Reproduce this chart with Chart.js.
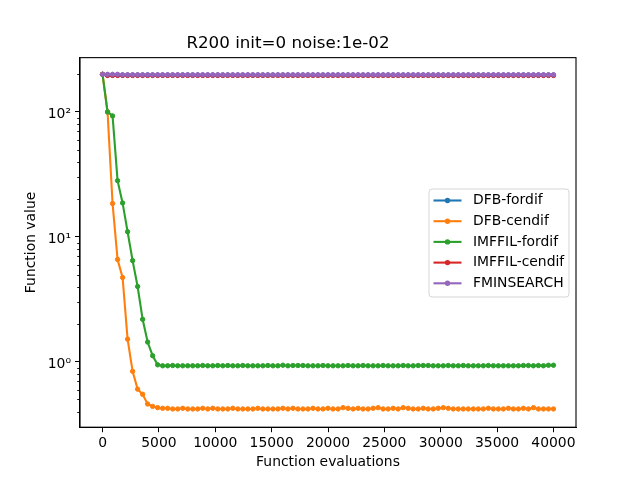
<!DOCTYPE html>
<html>
<head>
<meta charset="utf-8">
<script src="https://cdn.jsdelivr.net/npm/chart.js@4.4.1/dist/chart.umd.min.js"></script>
<style>
html,body{margin:0;padding:0;background:#fff;}
#wrap{width:640px;height:480px;}
</style>
</head>
<body>
<div id="wrap"><canvas id="c" width="640" height="480"></canvas></div>
<script>
const titleText = 'R200 init=0 noise:1e-02';
const xLabel = 'Function evaluations';
const yLabel = 'Function value';
const seriesNames = ['DFB-fordif','DFB-cendif','IMFFIL-fordif','IMFFIL-cendif','FMINSEARCH'];
const seriesColors = ['#1f77b4','#ff7f0e','#2ca02c','#d62728','#9467bd'];
const xTicks = [0,5000,10000,15000,20000,25000,30000,35000,40000];
const yTicks = [1,10,100];
const yTickLabels = ['10\u2070','10\u00b9','10\u00b2'];
const yMinorTicks = [0.4,0.5,0.6,0.7,0.8,0.9,2,3,4,5,6,7,8,9,20,30,40,50,60,70,80,90,200];

const evals = [0,444,889,1333,1778,2222,2667,3111,3556,4000,
4444,4889,5333,5778,6222,6667,7111,7556,8000,8444,
8889,9333,9778,10222,10667,11111,11556,12000,12444,12889,
13333,13778,14222,14667,15111,15556,16000,16444,16889,17333,
17778,18222,18667,19111,19556,20000,20444,20889,21333,21778,
22222,22667,23111,23556,24000,24444,24889,25333,25778,26222,
26667,27111,27556,28000,28444,28889,29333,29778,30222,30667,
31111,31556,32000,32444,32889,33333,33778,34222,34667,35111,
35556,36000,36444,36889,37333,37778,38222,38667,39111,39556,40000];

const dfbFordif = [200,197,197,197,197,197,197,197,197,197,
197,197,197,197,197,197,197,197,197,197,
197,197,197,197,197,197,197,197,197,197,
197,197,197,197,197,197,197,197,197,197,
197,197,197,197,197,197,197,197,197,197,
197,197,197,197,197,197,197,197,197,197,
197,197,197,197,197,197,197,197,197,197,
197,197,197,197,197,197,197,197,197,197,
197,197,197,197,197,197,197,197,197,197,197];

const dfbCendif = [200,100,18.5,6.6,4.73,1.52,0.84,0.605,0.55,0.46,0.44,0.43,
0.425,0.425,0.42,0.42,0.425,0.42,0.42,0.42,0.425,0.42,
0.425,0.42,0.42,0.42,0.425,0.42,0.42,0.42,0.42,0.425,
0.42,0.42,0.42,0.42,0.425,0.42,0.425,0.42,0.42,0.42,
0.425,0.42,0.42,0.425,0.42,0.42,0.43,0.425,0.42,0.425,
0.42,0.42,0.425,0.43,0.42,0.42,0.425,0.42,0.43,0.425,
0.42,0.42,0.425,0.42,0.42,0.425,0.43,0.425,0.42,0.42,
0.42,0.42,0.42,0.42,0.42,0.425,0.42,0.42,0.42,0.425,
0.42,0.42,0.425,0.42,0.43,0.42,0.42,0.42,0.42];

const imffilFordif = [200,100,93,28.2,18.7,11.0,6.46,4.01,2.19,1.44,1.12,0.947,
0.93,0.93,0.935,0.93,0.93,0.93,0.93,0.93,0.935,0.93,
0.93,0.935,0.93,0.935,0.93,0.93,0.935,0.93,0.93,0.93,
0.93,0.935,0.93,0.93,0.94,0.93,0.935,0.935,0.935,0.93,
0.93,0.93,0.935,0.93,0.93,0.93,0.93,0.935,0.93,0.93,
0.935,0.93,0.93,0.93,0.935,0.93,0.93,0.93,0.935,0.93,
0.93,0.935,0.935,0.935,0.93,0.93,0.93,0.935,0.93,0.93,
0.935,0.93,0.93,0.93,0.93,0.935,0.93,0.93,0.93,0.93,
0.93,0.93,0.935,0.935,0.93,0.935,0.93,0.94,0.94];

const imffilCendif = [200,196,196,196,196,196,196,196,196,196,
196,196,196,196,196,196,196,196,196,196,
196,196,196,196,196,196,196,196,196,196,
196,196,196,196,196,196,196,196,196,196,
196,196,196,196,196,196,196,196,196,196,
196,196,196,196,196,196,196,196,196,196,
196,196,196,196,196,196,196,196,196,196,
196,196,196,196,196,196,196,196,196,196,
196,196,196,196,196,196,196,196,196,196,196];

const fminsearch = [200,200,200,200,198.5,198.5,198.5,198.5,198.5,198.5,
198.5,198.5,198.5,198.5,198.5,198.5,198.5,198.5,198.5,198.5,
198.5,198.5,198.5,198.5,198.5,198.5,198.5,198.5,198.5,198.5,
198.5,198.5,198.5,198.5,198.5,198.5,198.5,198.5,198.5,198.5,
198.5,198.5,198.5,198.5,198.5,198.5,198.5,198.5,198.5,198.5,
198.5,198.5,198.5,198.5,198.5,198.5,198.5,198.5,198.5,198.5,
198.5,198.5,198.5,198.5,198.5,198.5,198.5,198.5,198.5,198.5,
198.5,198.5,198.5,198.5,198.5,198.5,198.5,198.5,198.5,198.5,
198.5,198.5,198.5,198.5,198.5,198.5,198.5,198.5,198.5,198.5,198.5];

const seriesValues = [dfbFordif, dfbCendif, imffilFordif, imffilCendif, fminsearch];

const FONT = 'DejaVu Sans';

const datasets = seriesNames.map((name, i) => ({
  label: name,
  data: seriesValues[i].map((v, k) => ({x: evals[k], y: v})),
  borderColor: seriesColors[i],
  backgroundColor: seriesColors[i],
  pointBackgroundColor: seriesColors[i],
  pointBorderColor: seriesColors[i],
  pointRadius: 2.2,
  pointBorderWidth: 1,
  borderWidth: 2.1,
  tension: 0,
  order: seriesNames.length - 1 - i
}));

const extrasPlugin = {
  id: 'extras',
  afterDraw(chart) {
    const ctx = chart.ctx;
    const a = chart.chartArea;
    const y = chart.scales.y;
    ctx.save();
    ctx.strokeStyle = '#000';
    ctx.lineWidth = 0.9;
    yMinorTicks.forEach(v => {
      const py = Math.round(y.getPixelForValue(v)) + 0.5;
      if (py < a.top || py > a.bottom) return;
      ctx.beginPath();
      ctx.moveTo(a.left - 2.8, py);
      ctx.lineTo(a.left, py);
      ctx.stroke();
    });
    ctx.lineWidth = 1.1;
    ctx.strokeRect(a.left, a.top, a.right - a.left, a.bottom - a.top);
    const lx = 429, ly = 189, lw = 140, lh = 108, r = 3;
    ctx.globalAlpha = 0.8;
    ctx.fillStyle = '#fff';
    ctx.strokeStyle = '#cccccc';
    ctx.lineWidth = 1;
    ctx.beginPath();
    ctx.moveTo(lx + r, ly);
    ctx.lineTo(lx + lw - r, ly);
    ctx.quadraticCurveTo(lx + lw, ly, lx + lw, ly + r);
    ctx.lineTo(lx + lw, ly + lh - r);
    ctx.quadraticCurveTo(lx + lw, ly + lh, lx + lw - r, ly + lh);
    ctx.lineTo(lx + r, ly + lh);
    ctx.quadraticCurveTo(lx, ly + lh, lx, ly + lh - r);
    ctx.lineTo(lx, ly + r);
    ctx.quadraticCurveTo(lx, ly, lx + r, ly);
    ctx.closePath();
    ctx.fill();
    ctx.stroke();
    ctx.globalAlpha = 1;
    ctx.font = '13.9px "' + FONT + '"';
    ctx.textBaseline = 'middle';
    ctx.textAlign = 'left';
    chart.data.datasets.forEach((ds, i) => {
      const ry = 200.5 + i * 20.7;
      ctx.strokeStyle = ds.borderColor;
      ctx.lineWidth = 2.1;
      ctx.beginPath();
      ctx.moveTo(433.5, ry);
      ctx.lineTo(461.5, ry);
      ctx.stroke();
      ctx.fillStyle = ds.borderColor;
      ctx.beginPath();
      ctx.arc(447.5, ry, 2.7, 0, Math.PI * 2);
      ctx.fill();
      ctx.fillStyle = '#000';
      ctx.fillText(ds.label, 473, ry);
    });
    ctx.restore();
  }
};

new Chart(document.getElementById('c'), {
  type: 'line',
  data: { datasets },
  options: {
    responsive: false,
    animation: false,
    devicePixelRatio: 1,
    layout: { padding: { left: 0, right: 64, top: 0, bottom: 0 } },
    plugins: {
      legend: { display: false },
      tooltip: { enabled: false },
      title: {
        display: true,
        text: titleText,
        color: '#000',
        font: { family: FONT, size: 16.7, weight: 'normal', lineHeight: 1.2 },
        padding: { top: 33.5, bottom: 4.1 }
      }
    },
    scales: {
      x: {
        type: 'linear',
        min: -2000,
        max: 42000,
        afterBuildTicks: s => { s.ticks = xTicks.map(v => ({ value: v })); },
        afterFit: s => { s.height = 52.8; },
        ticks: {
          color: '#000',
          font: { family: FONT, size: 13.9 },
          padding: 3,
          maxRotation: 0,
          autoSkip: false,
          callback: v => String(v)
        },
        grid: { drawOnChartArea: false, tickLength: 5, tickColor: '#000', tickWidth: 1 },
        border: { color: '#000', width: 1.1 },
        title: {
          display: true,
          text: xLabel,
          color: '#000',
          font: { family: FONT, size: 13.9, lineHeight: 1.2 },
          padding: { top: 0, bottom: 9.7 }
        }
      },
      y: {
        type: 'logarithmic',
        min: 0.308,
        max: 272,
        afterBuildTicks: s => { s.ticks = yTicks.map(v => ({ value: v, major: true })); },
        afterFit: s => { s.width = 80; },
        ticks: {
          color: '#000',
          font: { family: FONT, size: 13.9 },
          padding: 4,
          labelOffset: 2.5,
          autoSkip: false,
          callback: v => { const k = yTicks.indexOf(v); return k >= 0 ? yTickLabels[k] : ''; }
        },
        grid: { drawOnChartArea: false, tickLength: 5, tickColor: '#000', tickWidth: 1 },
        border: { color: '#000', width: 1.1 },
        title: {
          display: true,
          text: yLabel,
          color: '#000',
          font: { family: FONT, size: 13.9, lineHeight: 1.2 },
          padding: { top: 22.7, bottom: 0 }
        }
      }
    }
  },
  plugins: [extrasPlugin]
});
</script>
</body>
</html>
